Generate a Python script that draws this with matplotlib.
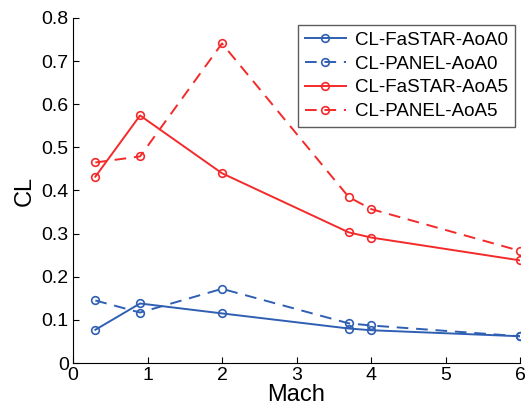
import numpy as np
import matplotlib
matplotlib.use("Agg")
import matplotlib.pyplot as plt

plt.rcParams['font.family'] = ['Liberation Sans', 'DejaVu Sans']

mach = [0.3, 0.9, 2, 3.7, 4, 6]
cl_fastar_aoa0 = [0.077, 0.138, 0.115, 0.080, 0.076, 0.062]
cl_panel_aoa0 = [0.145, 0.117, 0.172, 0.092, 0.087, 0.062]
cl_fastar_aoa5 = [0.432, 0.574, 0.440, 0.303, 0.291, 0.238]
cl_panel_aoa5 = [0.465, 0.479, 0.741, 0.385, 0.357, 0.260]

blue = '#2f5fb3'
red = '#f42a2a'

fig = plt.figure(figsize=(5.28, 4.11), dpi=100)
ax = fig.add_axes([73/528, 1 - 363/411, (520 - 73)/528, (363 - 18)/411])

mk = dict(marker='o', markersize=5.5, markerfacecolor='none', markeredgewidth=1.2, linewidth=1.4)
ax.plot(mach, cl_fastar_aoa0, '-', color=blue, label='CL-FaSTAR-AoA0', **mk)
ax.plot(mach, cl_panel_aoa0, '--', color=blue, label='CL-PANEL-AoA0', dashes=(6, 4), **mk)
ax.plot(mach, cl_fastar_aoa5, '-', color=red, label='CL-FaSTAR-AoA5', **mk)
ax.plot(mach, cl_panel_aoa5, '--', color=red, label='CL-PANEL-AoA5', dashes=(6, 4), **mk)

ax.set_xlim(0, 6)
ax.set_ylim(0, 0.8)
ax.set_xticks(range(7))
ax.set_yticks(np.arange(0, 0.81, 0.1))
ax.set_yticklabels(['0', '0.1', '0.2', '0.3', '0.4', '0.5', '0.6', '0.7', '0.8'])
ax.spines['top'].set_visible(False)
ax.spines['right'].set_visible(False)
ax.tick_params(direction='in', labelsize=14, length=4, pad=3)
ax.set_xlabel('Mach', fontsize=17, labelpad=0)
ax.set_ylabel('CL', fontsize=17, labelpad=4)

leg = ax.legend(loc='upper right', fontsize=13.5, frameon=True, fancybox=False,
                edgecolor='#333333', borderaxespad=0, handlelength=2.2,
                handletextpad=0.5, labelspacing=0.36, borderpad=0.35,
                bbox_to_anchor=(515/528, 1 - 25/411), bbox_transform=fig.transFigure)
leg.get_frame().set_linewidth(1.0)

fig.savefig('out.png', dpi=100)
